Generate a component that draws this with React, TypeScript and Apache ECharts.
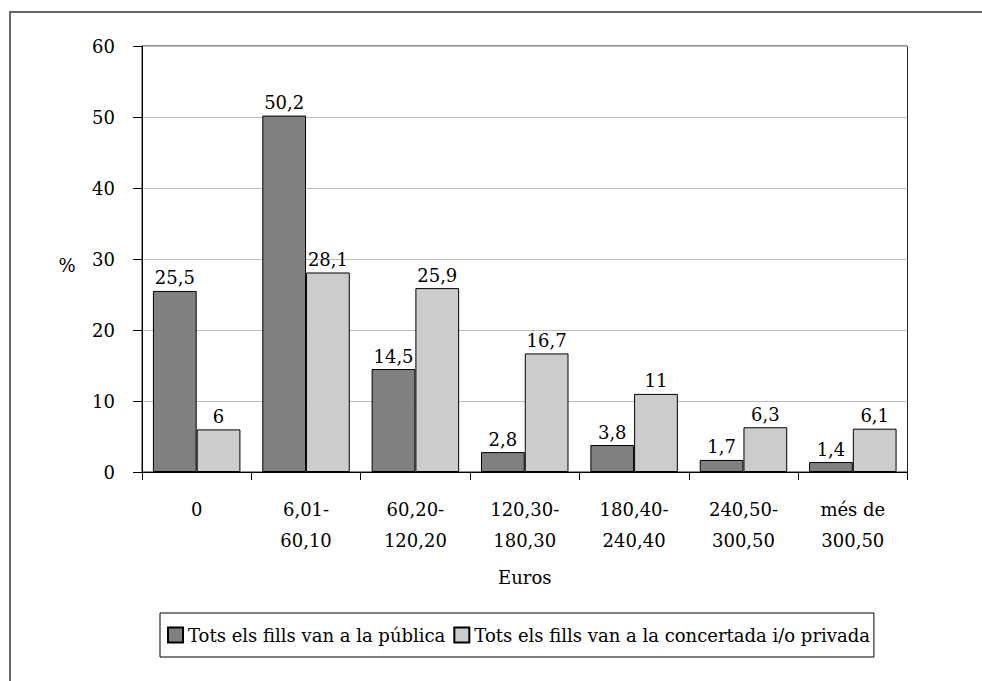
import React, { useEffect, useRef } from "react";
import * as echarts from "echarts";

const categories = [
  "0",
  "6,01-\n60,10",
  "60,20-\n120,20",
  "120,30-\n180,30",
  "180,40-\n240,40",
  "240,50-\n300,50",
  "més de\n300,50",
];
const publicaValues = [25.5, 50.2, 14.5, 2.8, 3.8, 1.7, 1.4];
const privadaValues = [6, 28.1, 25.9, 16.7, 11, 6.3, 6.1];
const seriesNames = [
  "Tots els fills van a la pública",
  "Tots els fills van a la concertada i/o privada",
];
const yTicks = { min: 0, max: 60, interval: 10 };

const FONT = "DejaVu Serif";
const FS = 18;

export default function App() {
  const ref = useRef<HTMLDivElement>(null);
  useEffect(() => {
    document.body.style.margin = "0";
    if (!ref.current) return;
    const chart = echarts.init(ref.current, undefined, { renderer: "svg" });
    const fmt = (p: any) => String(p.value).replace(".", ",");
    const labelStyle = {
      show: true,
      position: "top",
      distance: 4,
      fontFamily: FONT,
      fontSize: FS,
      color: "#000",
      formatter: fmt,
    };
    chart.setOption({
      animation: false,
      grid: {
        left: 142,
        top: 46,
        right: 74.5,
        bottom: 209,
        show: true,
        borderColor: "#222",
        borderWidth: 1,
      },
      legend: {
        left: 160,
        top: 613,
        orient: "horizontal",
        data: seriesNames,
        itemWidth: 15,
        itemHeight: 15,
        itemGap: 8,
        padding: [10, 4, 10, 7],
        borderColor: "#000",
        borderWidth: 1,
        icon: "rect",
        textStyle: { fontFamily: FONT, fontSize: FS, color: "#000", lineHeight: 24 },
        selectedMode: false,
      },
      xAxis: {
        type: "category",
        data: categories,
        name: "Euros",
        nameLocation: "middle",
        nameGap: 105,
        nameTextStyle: { fontFamily: FONT, fontSize: FS, color: "#000", verticalAlign: "middle" },
        axisLine: { lineStyle: { color: "#000", width: 1 } },
        axisTick: { show: true, length: 8, lineStyle: { color: "#000" } },
        axisLabel: {
          fontFamily: FONT,
          fontSize: FS,
          color: "#000",
          lineHeight: 31,
          margin: 22,
          interval: 0,
        },
      },
      yAxis: {
        type: "value",
        min: yTicks.min,
        max: yTicks.max,
        interval: yTicks.interval,
        name: "%",
        nameLocation: "middle",
        nameRotate: 0,
        nameGap: 75,
        nameTextStyle: {
          fontFamily: FONT,
          fontSize: FS,
          color: "#000",
          align: "center",
          verticalAlign: "top",
          lineHeight: 12,
        },
        axisLine: { show: true, lineStyle: { color: "#000", width: 1 } },
        axisTick: { show: true, length: 9, lineStyle: { color: "#000" } },
        axisLabel: { fontFamily: FONT, fontSize: FS, color: "#000", margin: 27 },
        splitLine: { show: true, lineStyle: { color: "#bdbdbd", width: 1 } },
      },
      series: [
        {
          name: seriesNames[0],
          type: "bar",
          data: publicaValues,
          barGap: "0%",
          barCategoryGap: "20%",
          itemStyle: { color: "#808080", borderColor: "#000", borderWidth: 1 },
          label: labelStyle,
        },
        {
          name: seriesNames[1],
          type: "bar",
          data: privadaValues,
          barGap: "0%",
          barCategoryGap: "20%",
          itemStyle: { color: "#cccccc", borderColor: "#000", borderWidth: 1 },
          label: labelStyle,
        },
      ],
    });
    return () => chart.dispose();
  }, []);
  return (
    <div style={{ position: "relative", width: 982, height: 681, overflow: "hidden", background: "#fff" }}>
      <div
        style={{
          position: "absolute",
          left: 9,
          top: 11,
          width: 1000,
          height: 720,
          border: "2px solid #666",
          boxSizing: "border-box",
        }}
      />
      <div ref={ref} style={{ position: "absolute", left: 0, top: 0, width: 982, height: 681 }} />
    </div>
  );
}
